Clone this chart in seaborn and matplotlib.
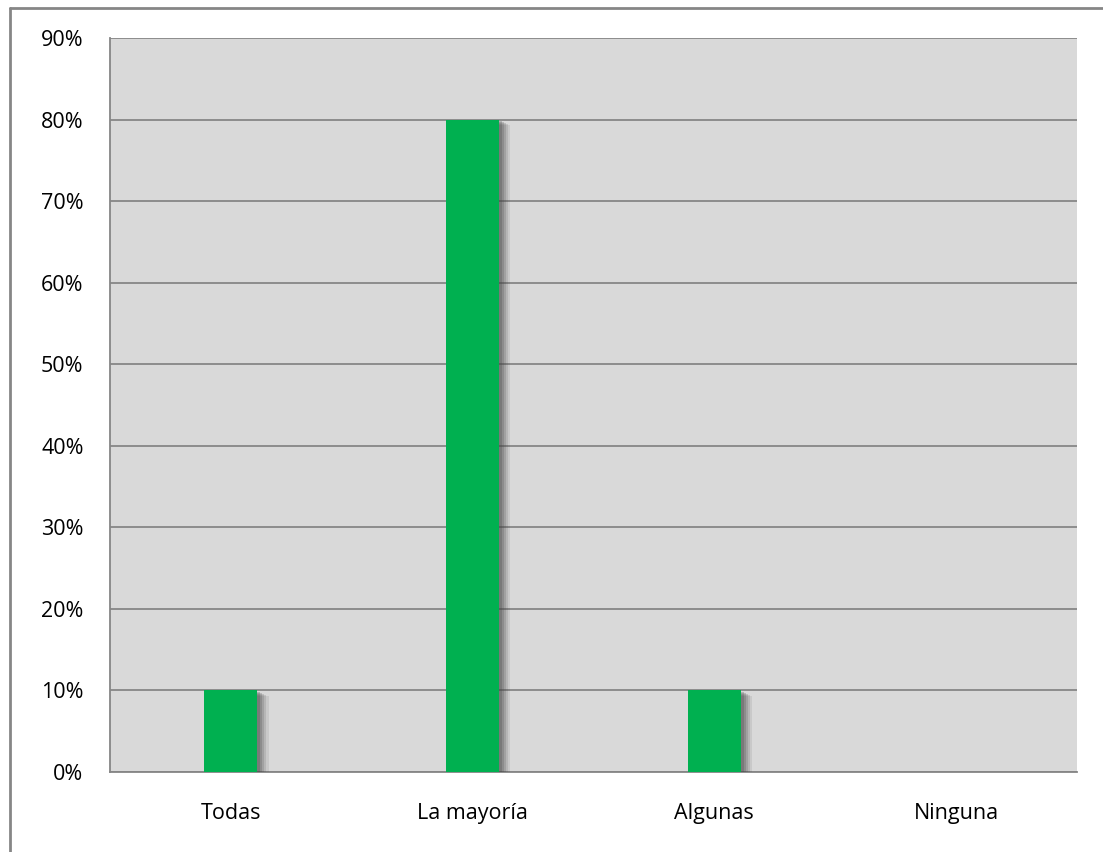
import matplotlib
matplotlib.use("Agg")
import matplotlib.pyplot as plt
import matplotlib.patheffects as pe
from matplotlib.lines import Line2D
from matplotlib.ticker import FixedLocator, PercentFormatter
import seaborn as sns
import pandas as pd

categories = ["Todas", "La mayoría", "Algunas", "Ninguna"]
values = [10, 80, 10, 0]
yticks = [0, 10, 20, 30, 40, 50, 60, 70, 80, 90]

sns.set_style("white")
plt.rcParams["font.family"] = ["Open Sans", "DejaVu Sans"]

df = pd.DataFrame({"cat": categories, "val": values})

fig = plt.figure(figsize=(11.03, 8.52), dpi=100)
ax = fig.add_axes([110 / 1103, 1 - 772 / 852, (1077 - 110) / 1103, (772 - 38) / 852])
ax.set_facecolor("#D9D9D9")

sns.barplot(data=df, x="cat", y="val", color="#00B050", width=0.22,
            saturation=1, ax=ax, zorder=3)

shadow = [pe.SimplePatchShadow(offset=(o, -o * 0.5), shadow_rgbFace="#444444", alpha=a)
          for o, a in [(8, 0.10), (6.5, 0.14), (5, 0.18), (3.5, 0.22), (2, 0.25)]]
for p in ax.patches:
    if p.get_height() > 0:
        p.set_path_effects(shadow + [pe.Normal()])
    p.set_edgecolor("none")

ax.set_xlim(-0.5, 3.5)
ax.set_ylim(0, 90)
ax.yaxis.set_major_locator(FixedLocator(yticks))
ax.yaxis.set_major_formatter(PercentFormatter(decimals=0))
ax.yaxis.grid(True, color="#868686", linewidth=1.3, zorder=1)
ax.set_axisbelow(True)

ax.set_xticks(range(len(categories)))
ax.set_xticklabels(categories)
ax.xaxis.set_minor_locator(FixedLocator([-0.5, 0.5, 1.5, 2.5, 3.5]))
ax.tick_params(axis="x", which="major", length=0, pad=22, labelsize=15.5, colors="black")
ax.tick_params(axis="x", which="minor", length=6, width=1.3, color="#868686", direction="out")
ax.tick_params(axis="y", which="major", length=6, width=1.3, color="#868686",
               direction="out", pad=13, labelsize=15.5, labelcolor="black")
ax.set_xlabel("")
ax.set_ylabel("")

for s in ["top", "right"]:
    ax.spines[s].set_visible(False)
for s in ["left", "bottom"]:
    ax.spines[s].set_color("#868686")
    ax.spines[s].set_linewidth(1.3)

# outer chart border (left and top only visible)
fig.add_artist(Line2D([10 / 1103, 10 / 1103], [0, 1 - 8 / 852], color="#868686", linewidth=2, transform=fig.transFigure))
fig.add_artist(Line2D([10 / 1103, 1], [1 - 8 / 852, 1 - 8 / 852], color="#868686", linewidth=2, transform=fig.transFigure))

fig.savefig("out.png", dpi=100, facecolor="white")
